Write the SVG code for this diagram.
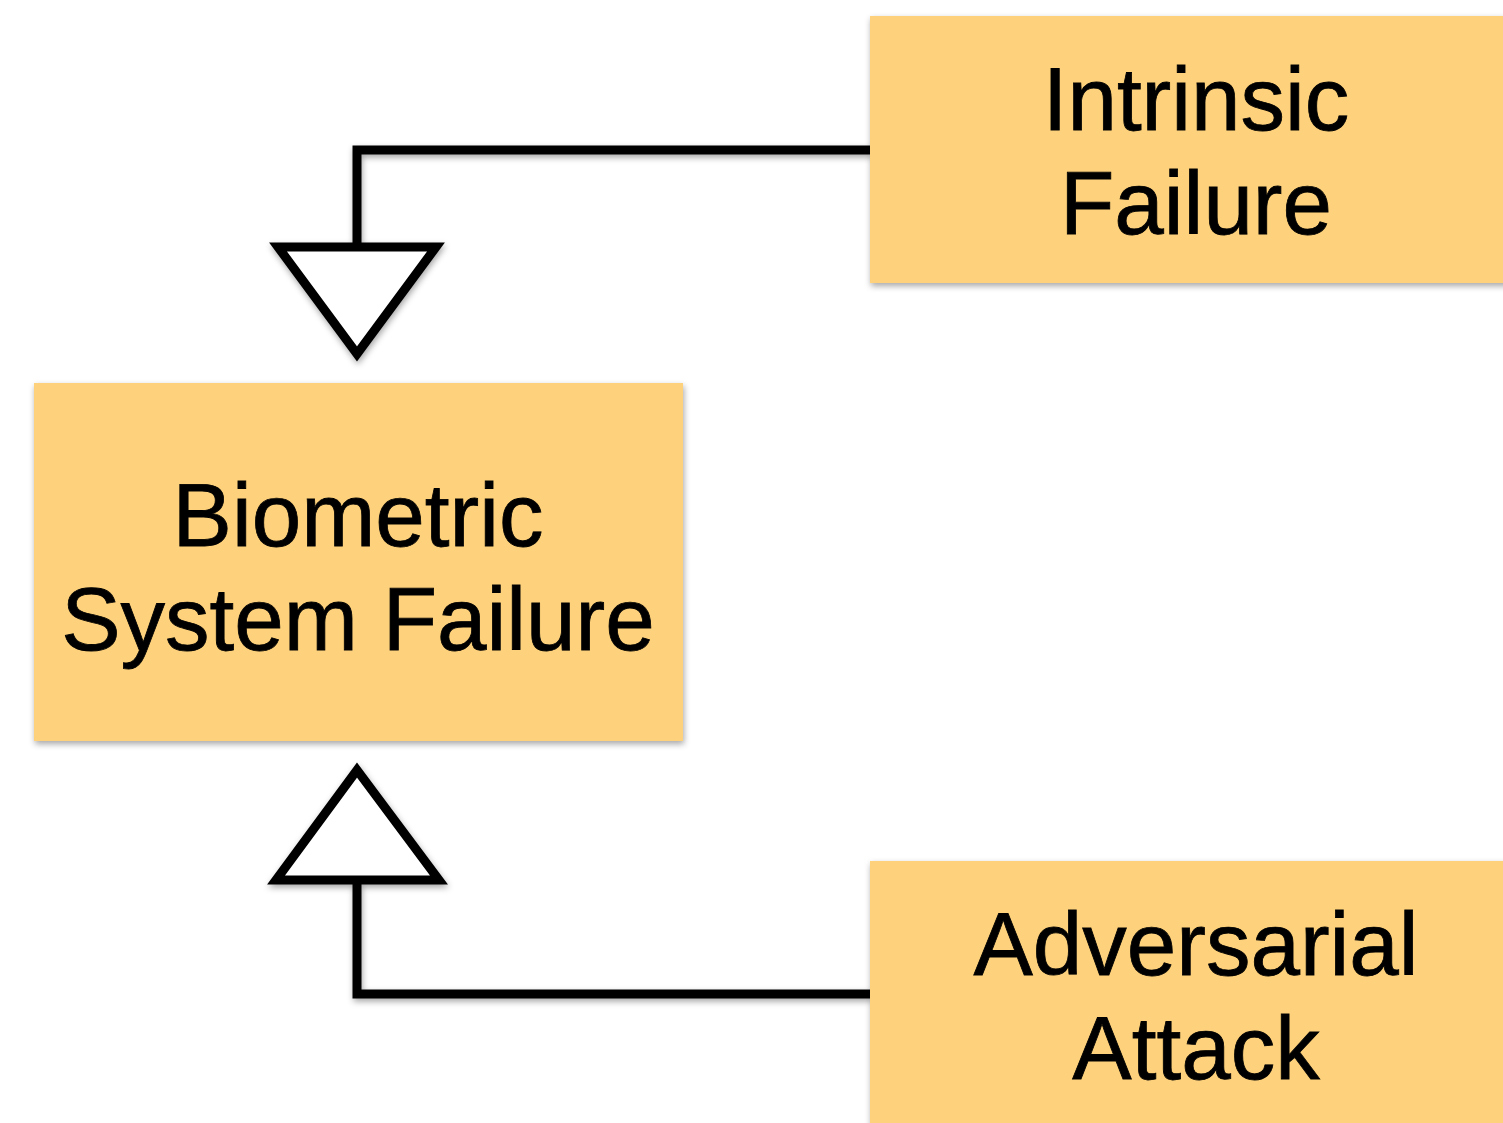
<svg xmlns="http://www.w3.org/2000/svg" width="1503" height="1123" viewBox="0 0 1503 1123">
  <defs>
    <filter id="shadow" x="-10%" y="-10%" width="120%" height="125%">
      <feDropShadow dx="1" dy="3" stdDeviation="3" flood-color="#000" flood-opacity="0.35"/>
    </filter>
  </defs>
  <style>
    .box { fill: #FED27B; filter: url(#shadow); }
    .label { font-family: "Liberation Sans", Arial, Helvetica, sans-serif; font-size: 89px; fill: #000; text-anchor: middle; stroke: #000; stroke-width: 0.8; }
    .wire { fill: none; stroke: #000; stroke-width: 9; stroke-linejoin: miter; }
    .head { fill: #fff; stroke: #000; stroke-width: 9; stroke-linejoin: miter; }
  </style>
  <rect width="1503" height="1123" fill="#fff"/>

  <!-- connectors with hollow triangular heads -->
  <g id="connectors" filter="url(#shadow)">
    <path class="wire" d="M871 150 H357 V246"/>
    <polygon class="head" points="278,247 436,247 357,354"/>
    <path class="wire" d="M871 994 H357 V880"/>
    <polygon class="head" points="276,880 439,880 357,770"/>
  </g>

  <g id="intrinsic">
    <rect class="box" x="870" y="16" width="660" height="267"/>
    <text class="label" x="1196" y="130">Intrinsic</text>
    <text class="label" x="1196" y="234">Failure</text>
  </g>

  <g id="biometric">
    <rect class="box" x="34" y="383" width="649" height="358"/>
    <text class="label" x="358" y="546">Biometric</text>
    <text class="label" x="358" y="650">System Failure</text>
  </g>

  <g id="adversarial">
    <rect class="box" x="870" y="861" width="660" height="280"/>
    <text class="label" x="1196" y="975">Adversarial</text>
    <text class="label" x="1196" y="1079">Attack</text>
  </g>
</svg>
